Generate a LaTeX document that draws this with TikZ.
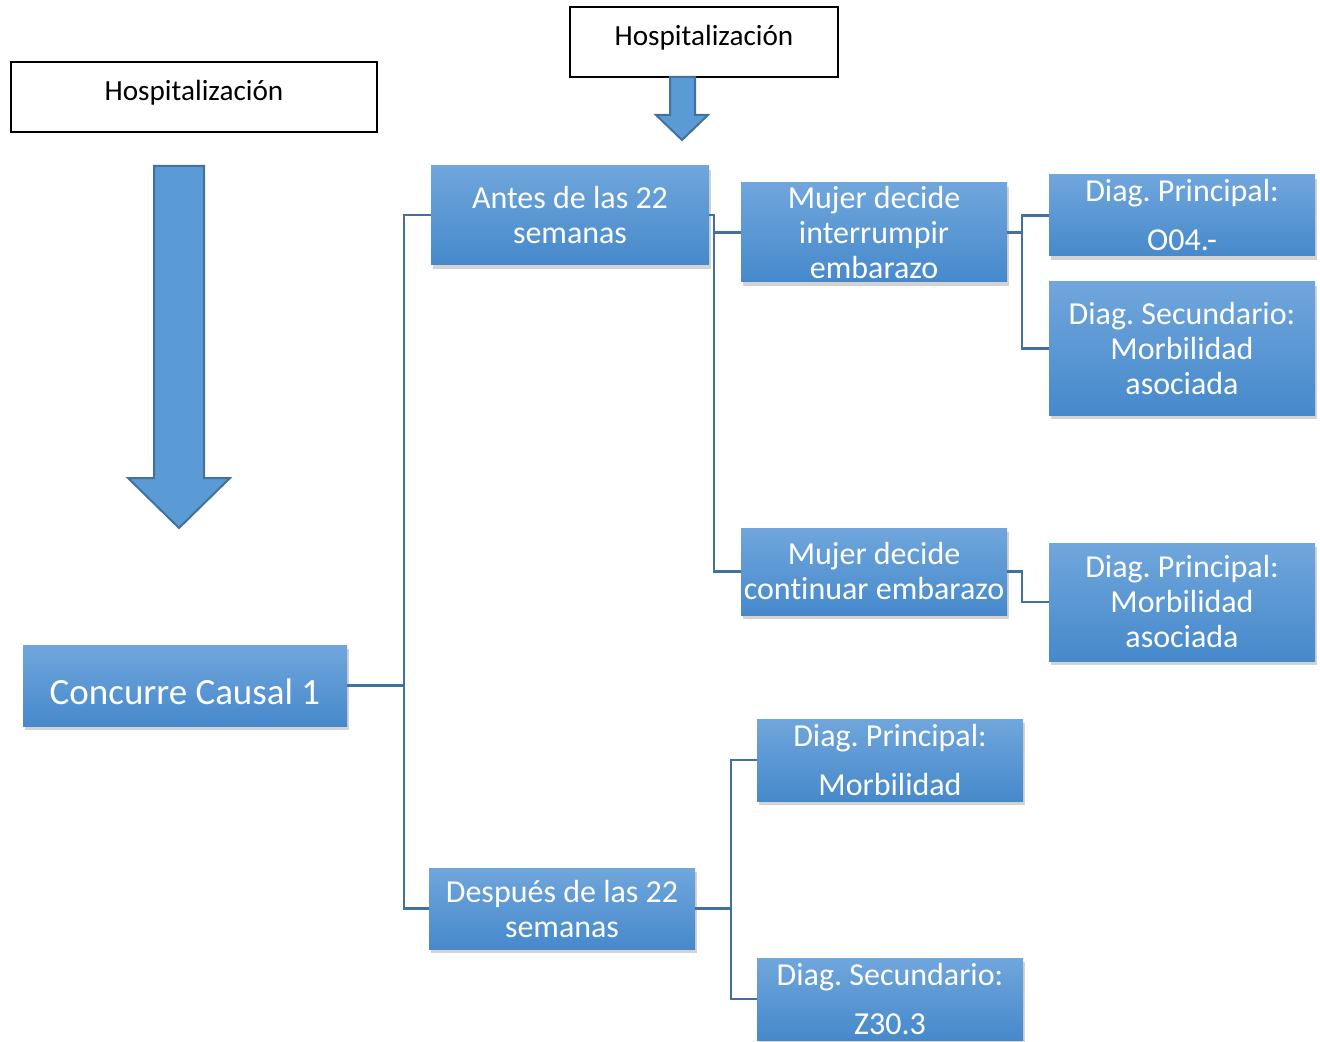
\documentclass[tikz,border=0pt]{standalone}
\usepackage{fontspec}
\setmainfont{Carlito}[Ligatures=NoCommon]
\usetikzlibrary{positioning,shadows}
\frenchspacing

\definecolor{boxtop}{RGB}{112,166,220}
\definecolor{boxbot}{RGB}{70,137,203}
\definecolor{linecol}{RGB}{65,113,156}
\definecolor{arrfill}{RGB}{91,155,213}

\begin{document}
\begin{tikzpicture}[x=0.5pt,y=-0.5pt,
  hosp/.style={draw=black,line width=0.6pt,minimum width=183pt,minimum height=35pt,inner sep=0pt,font=\fontsize{14.6}{17}\selectfont},
  blubox/.style={top color=boxtop,bottom color=boxbot,draw=none,text=white,align=center,inner sep=0pt,minimum width=133pt,
    drop shadow={shadow xshift=1.2pt,shadow yshift=-2.2pt,opacity=0.35},font=\fontsize{16}{17.5}\selectfont},
  conn/.style={draw=linecol,line width=1.2pt},
  bigarr/.style={fill=arrfill,draw=linecol,line width=1pt,line join=miter}]
\useasboundingbox (0,0) rectangle (1320,1042);

% cabeceras
\node[hosp] (hospA) at (194,97) {\raisebox{2pt}[\height][\depth]{Hospitalización}};
\node[hosp,minimum width=134pt] (hospB) at (704,42) {\raisebox{2pt}[\height][\depth]{Hospitalización}};

% flechas
\draw[bigarr] (154,166) -- (204,166) -- (204,478) -- (230,478) -- (179,528) -- (128,478) -- (154,478) -- cycle;
\draw[bigarr] (670,77) -- (695,77) -- (695,115) -- (708,115) -- (682,140) -- (656,115) -- (670,115) -- cycle;

% cajas
\node[blubox,minimum width=162pt,minimum height=40.5pt,font=\fontsize{18.5}{22}\selectfont] (causal) at (185,685.5) {\raisebox{-3pt}[\height][\depth]{Concurre Causal 1}};
\node[blubox,minimum width=139pt,minimum height=49.5pt] (antes) at (570,215) {Antes de las 22\\semanas};
\node[blubox,minimum height=49.5pt] (interr) at (874,232.5) {Mujer decide\\interrumpir\\embarazo};
\node[blubox,minimum height=40.5pt] (dpA) at (1182,215.5) {Diag. Principal:\\[7pt]O04.-};
\node[blubox,minimum height=66.5pt] (dsA) at (1182,348.5) {Diag. Secundario:\\Morbilidad\\asociada};
\node[blubox,minimum height=43.5pt] (contin) at (874,571.5) {Mujer decide\\continuar embarazo};
\node[blubox,minimum height=59pt] (dpB) at (1182,602) {Diag. Principal:\\Morbilidad\\asociada};
\node[blubox,minimum height=41pt] (dpC) at (890,760) {Diag. Principal:\\[7pt]Morbilidad};
\node[blubox,minimum height=40.5pt] (despues) at (562,908.5) {Después de las 22\\semanas};
\node[blubox,minimum height=41pt] (dsC) at (890,999) {Diag. Secundario:\\[7pt]Z30.3};

% uniones
\coordinate (jA) at (404,685.5);
\coordinate (jB) at (714,232.5);
\coordinate (jC) at (1022,232.5);
\coordinate (jD) at (1022,571.5);
\coordinate (jE) at (731,908.5);

\draw[conn] (causal.east) -- (jA);
\draw[conn] (antes.west) -| (jA) |- (despues.west);
\draw[conn] (antes.east) -| (jB) -- (interr.west);
\draw[conn] (jB) |- (contin.west);
\draw[conn] (interr.east) -- (jC);
\draw[conn] (dpA.west) -| (jC) |- (dsA.west);
\draw[conn] (contin.east) -- (jD) |- (dpB.west);
\draw[conn] (despues.east) -- (jE);
\draw[conn] (dpC.west) -| (jE) |- (dsC.west);
\end{tikzpicture}
\end{document}
